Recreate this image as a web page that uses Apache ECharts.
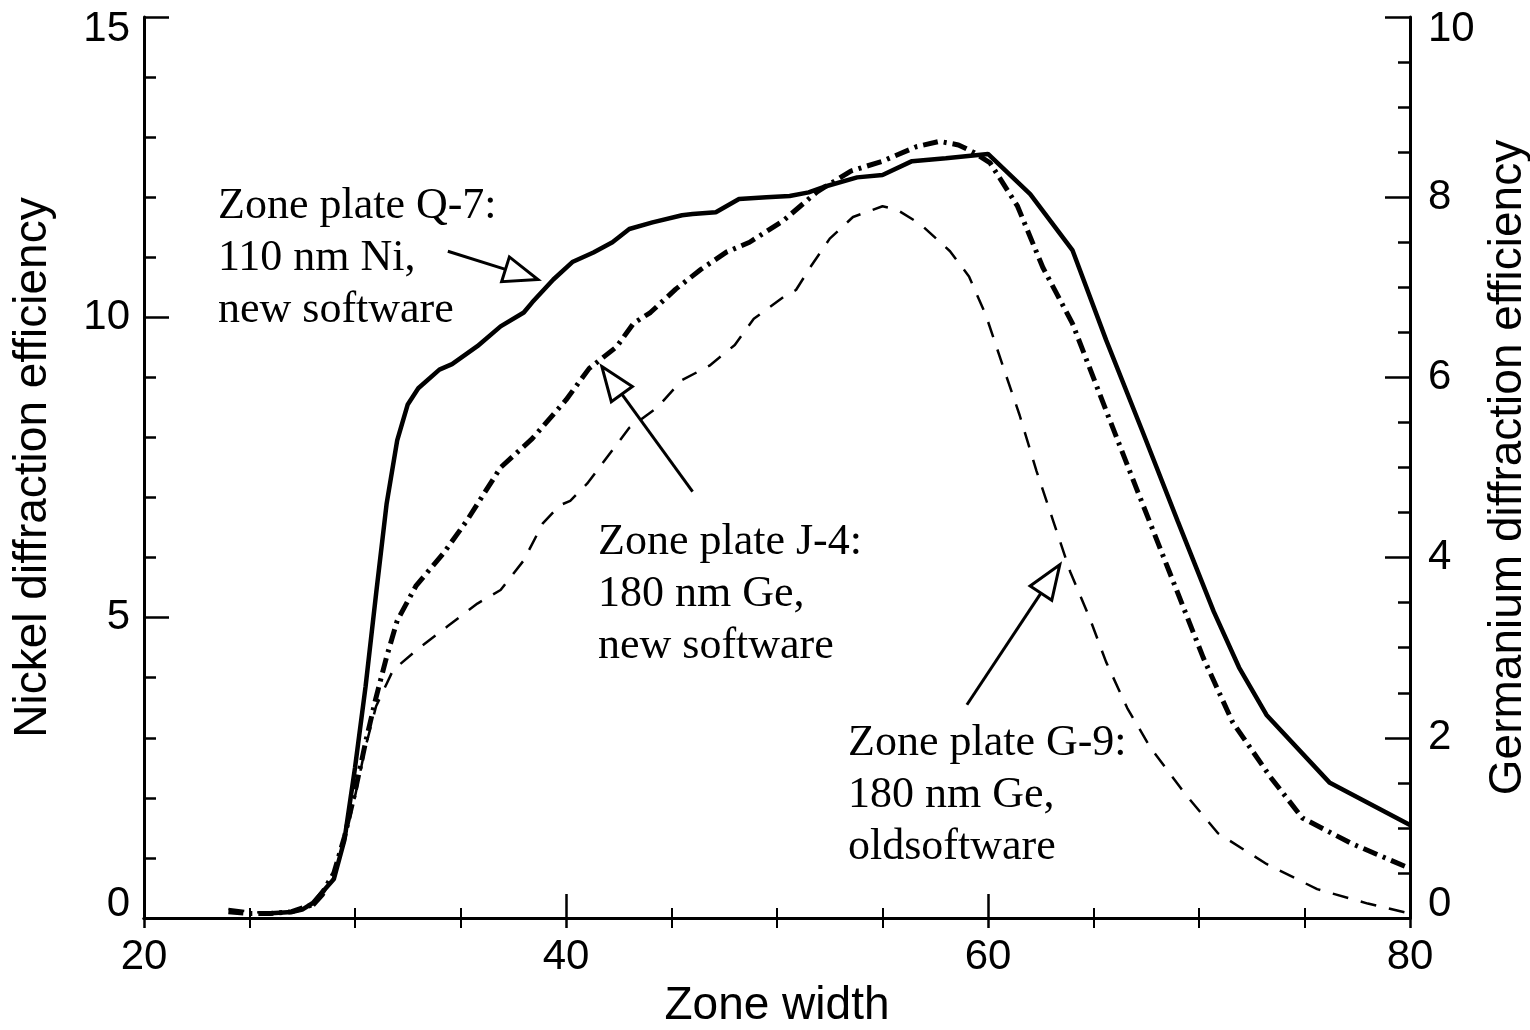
<!DOCTYPE html>
<html><head><meta charset="utf-8">
<script src="https://cdn.jsdelivr.net/npm/echarts@6/dist/echarts.min.js"></script>
<style>html,body{margin:0;padding:0;background:#fff;}#c{width:1530px;height:1030px;}</style>
</head><body><div id="c"></div>
<script>
// ---- tick labels ----
const xTicks = [20, 40, 60, 80];
const niTicks = [0, 5, 10, 15];
const geTicks = [0, 2, 4, 6, 8, 10];

// ---- Zone plate Q-7: 110 nm Ni, new software (left axis) ----
const niX = [26, 27, 27.5, 28, 28.5, 29, 29.5, 30, 30.5, 31, 31.5, 32, 32.5, 33, 34, 34.6, 35.8, 36.9, 38.0, 38.4, 39.4, 40.3, 41.3, 42.2, 43.0, 44.1, 45.5, 46.0, 47.1, 48.2, 49.5, 50.6, 51.5, 52.2, 53.8, 55.0, 56.4, 58.0, 60.0, 62.0, 64.0, 65.6, 67.3, 69.0, 70.7, 71.9, 73.2, 76.2, 80];
const niY = [0.08, 0.1, 0.14, 0.25, 0.45, 0.65, 1.3, 2.5, 3.85, 5.4, 6.9, 7.95, 8.55, 8.82, 9.13, 9.22, 9.52, 9.85, 10.08, 10.25, 10.63, 10.92, 11.08, 11.25, 11.47, 11.58, 11.7, 11.72, 11.75, 11.97, 12.0, 12.02, 12.08, 12.17, 12.33, 12.37, 12.6, 12.65, 12.72, 12.05, 11.12, 9.62, 8.12, 6.6, 5.1, 4.17, 3.38, 2.25, 1.55];

// ---- Zone plate J-4: 180 nm Ge, new software (right axis) ----
const j4X = [24, 25, 26, 27, 28, 28.5, 29, 29.5, 30, 30.5, 31, 31.5, 32, 32.9, 34.2, 35.3, 36.9, 38.4, 40.0, 41.1, 42.4, 43.2, 44.0, 45.2, 46.4, 47.6, 48.7, 50.3, 51.9, 53.5, 55.0, 56.6, 57.7, 58.6, 59.3, 60.1, 61.4, 62.6, 64.0, 65.6, 67.1, 68.6, 70.2, 71.6, 73.4, 74.9, 77.2, 80];
const j4Y = [0.07, 0.05, 0.05, 0.07, 0.15, 0.3, 0.5, 0.9, 1.4, 1.95, 2.45, 2.9, 3.3, 3.69, 4.05, 4.41, 5.0, 5.32, 5.75, 6.1, 6.34, 6.6, 6.72, 6.98, 7.2, 7.39, 7.5, 7.74, 8.06, 8.29, 8.4, 8.56, 8.62, 8.58, 8.5, 8.38, 7.9, 7.22, 6.6, 5.63, 4.73, 3.84, 2.89, 2.17, 1.56, 1.11, 0.83, 0.55];

// ---- Zone plate G-9: 180 nm Ge, old software (right axis) ----
const g9X = [24, 25, 26, 27, 28, 28.5, 29, 29.5, 30, 30.5, 31, 31.5, 31.8, 32.9, 34.4, 35.8, 36.9, 37.2, 38.0, 38.9, 39.7, 40.2, 41.0, 41.9, 43.0, 44.3, 45.5, 46.8, 48.0, 48.9, 50.3, 50.9, 51.6, 52.5, 53.6, 55.0, 55.7, 56.8, 58.2, 59.1, 59.9, 60.7, 61.5, 62.3, 63.1, 63.9, 64.8, 65.6, 66.6, 67.7, 69.3, 70.9, 73.2, 75.6, 78.0, 80];
const g9Y = [0.1, 0.07, 0.05, 0.06, 0.12, 0.25, 0.45, 0.85, 1.35, 1.9, 2.35, 2.6, 2.75, 2.97, 3.24, 3.49, 3.64, 3.73, 3.97, 4.38, 4.58, 4.63, 4.82, 5.1, 5.44, 5.66, 5.97, 6.13, 6.36, 6.65, 6.89, 6.97, 7.23, 7.54, 7.78, 7.9, 7.86, 7.7, 7.4, 7.12, 6.69, 6.13, 5.58, 4.96, 4.4, 3.84, 3.34, 2.84, 2.33, 1.89, 1.39, 0.94, 0.6, 0.32, 0.16, 0.05];

// ---- annotations ----
const noteTexts = [
  'Zone plate Q-7:\n110 nm Ni,\nnew software',
  'Zone plate J-4:\n180 nm Ge,\nnew software',
  'Zone plate G-9:\n180 nm Ge,\noldsoftware'
];
// arrow tail / tip in (zone width, nickel efficiency) coordinates
const arrowTails = [[34.4, 11.1], [46.0, 7.1], [59.0, 3.55]];
const arrowTips  = [[38.67, 10.63], [41.7, 9.18], [63.4, 5.88]];

const SANS = '"Liberation Sans", Arial, Helvetica, sans-serif';
const SERIF = '"Liberation Serif", "Times New Roman", serif';

const chart = echarts.init(document.getElementById('c'), null, {renderer: 'canvas'});

function zip(xs, ys) { return xs.map((x, i) => [x, ys[i]]); }

const axisLineStyle = {color: '#000', width: 3};
const tickStyle = {color: '#000', width: 2.5};
const labelFont = {color: '#000', fontSize: 42, fontFamily: SANS};

function yLabelFormatter(maxV) {
  return function (v) {
    if (v === maxV) return '{t|' + v + '}';
    if (v === 0) return '{b|' + v + '}';
    return String(v);
  };
}
const yRich = {
  t: {padding: [24, 0, 0, 0], color: '#000', fontSize: 42, fontFamily: SANS},
  b: {padding: [0, 0, 28, 0], color: '#000', fontSize: 42, fontFamily: SANS}
};

const option = {
  animation: false,
  backgroundColor: '#fff',
  grid: {left: 144, right: 120, top: 17, bottom: 112, outerBoundsMode: 'none', containLabel: false},
  xAxis: [
    {
      type: 'value', position: 'bottom',
      min: xTicks[0], max: xTicks[xTicks.length - 1], interval: xTicks[1] - xTicks[0],
      axisLine: {show: true, lineStyle: axisLineStyle},
      axisTick: {show: true, inside: true, length: 24, lineStyle: tickStyle},
      minorTick: {show: true, splitNumber: 4, length: 10, lineStyle: {color: '#000', width: 2}},
      splitLine: {show: false}, minorSplitLine: {show: false},
      axisLabel: Object.assign({margin: 18}, labelFont),
      name: 'Zone width', nameLocation: 'middle', nameGap: 58,
      nameTextStyle: {color: '#000', fontSize: 46, fontFamily: SANS}
    },
    {
      type: 'value', position: 'top',
      min: xTicks[0], max: xTicks[xTicks.length - 1], interval: xTicks[1] - xTicks[0],
      axisLine: {show: true, lineStyle: axisLineStyle},
      axisTick: {show: true, inside: true, length: 10, lineStyle: tickStyle},
      minorTick: {show: true, splitNumber: 4, length: 10, lineStyle: {color: '#000', width: 2}},
      splitLine: {show: false},
      axisLabel: {show: false}
    }
  ],
  yAxis: [
    {
      type: 'value', position: 'left',
      min: niTicks[0], max: niTicks[niTicks.length - 1], interval: niTicks[1] - niTicks[0],
      axisLine: {show: true, lineStyle: axisLineStyle},
      axisTick: {show: true, inside: true, length: 25, lineStyle: tickStyle},
      minorTick: {show: true, splitNumber: 5, length: 12, lineStyle: {color: '#000', width: 2.5}},
      splitLine: {show: false},
      axisLabel: Object.assign({margin: 14, formatter: yLabelFormatter(15), rich: yRich}, labelFont),
      name: 'Nickel diffraction efficiency', nameLocation: 'middle', nameGap: 88, nameRotate: 90,
      nameTextStyle: {color: '#000', fontSize: 46, fontFamily: SANS}
    },
    {
      type: 'value', position: 'right',
      min: geTicks[0], max: geTicks[geTicks.length - 1], interval: geTicks[1] - geTicks[0],
      axisLine: {show: true, lineStyle: axisLineStyle},
      axisTick: {show: true, inside: true, length: 25, lineStyle: tickStyle},
      minorTick: {show: true, splitNumber: 4, length: 12, lineStyle: {color: '#000', width: 2.5}},
      splitLine: {show: false},
      axisLabel: Object.assign({margin: 18, formatter: yLabelFormatter(10), rich: yRich}, labelFont),
      name: 'Germanium diffraction efficiency', nameLocation: 'middle', nameGap: 68, nameRotate: 90,
      nameTextStyle: {color: '#000', fontSize: 46, fontFamily: SANS}
    }
  ],
  series: [
    {
      name: 'Q-7', type: 'line', xAxisIndex: 0, yAxisIndex: 0,
      data: zip(niX, niY), showSymbol: false, symbol: 'none',
      lineStyle: {color: '#000', width: 4.5, type: 'solid'}, z: 3
    },
    {
      name: 'J-4', type: 'line', xAxisIndex: 0, yAxisIndex: 1,
      data: zip(j4X, j4Y), showSymbol: false, symbol: 'none',
      lineStyle: {color: '#000', width: 5, type: [15, 6, 3, 6], cap: 'butt'}, z: 2
    },
    {
      name: 'G-9', type: 'line', xAxisIndex: 0, yAxisIndex: 1,
      data: zip(g9X, g9Y), showSymbol: false, symbol: 'none',
      lineStyle: {color: '#000', width: 2.5, type: [16, 13], cap: 'butt'}, z: 1
    }
  ]
};
chart.setOption(option);

// annotations: texts and hollow-headed arrows
const notePos = [[218, 180], [598, 516], [848, 717]];
const graphics = [];
noteTexts.forEach((t, i) => {
  graphics.push({
    type: 'text', left: notePos[i][0], top: notePos[i][1], z: 10,
    style: {text: t, fill: '#000', font: '44px ' + SERIF, lineHeight: 52}
  });
});
arrowTails.forEach((tail, i) => {
  const a = chart.convertToPixel({xAxisIndex: 0, yAxisIndex: 0}, tail);
  const b = chart.convertToPixel({xAxisIndex: 0, yAxisIndex: 0}, arrowTips[i]);
  const dx = b[0] - a[0], dy = b[1] - a[1];
  const len = Math.sqrt(dx * dx + dy * dy);
  const ux = dx / len, uy = dy / len;
  const L = 34, W = 13;
  const bx = b[0] - ux * L, by = b[1] - uy * L;
  const nx = -uy, ny = ux;
  graphics.push({
    type: 'line', z: 10,
    shape: {x1: a[0], y1: a[1], x2: bx, y2: by},
    style: {stroke: '#000', lineWidth: 3}
  });
  graphics.push({
    type: 'polygon', z: 10,
    shape: {points: [[b[0], b[1]], [bx + nx * W, by + ny * W], [bx - nx * W, by - ny * W]]},
    style: {fill: '#fff', stroke: '#000', lineWidth: 3, lineJoin: 'miter'}
  });
});
chart.setOption({graphic: graphics});
</script>
</body></html>
